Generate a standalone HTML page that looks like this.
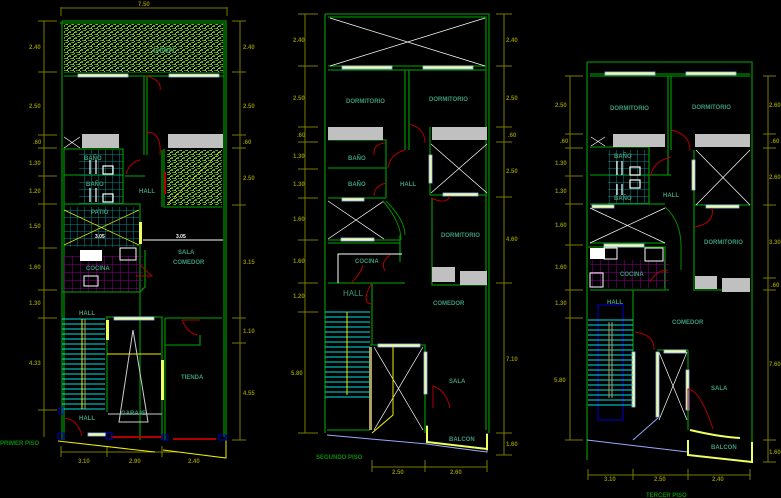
<!DOCTYPE html>
<html><head><meta charset="utf-8"><style>
html,body{margin:0;padding:0;background:#000;width:781px;height:498px;overflow:hidden}
svg{display:block}
text{font-family:"Liberation Sans",sans-serif;font-weight:bold}
.l{fill:#3d9a7c;font-size:6px}
.d{fill:#8a8a00;font-size:6px}
.w{stroke:#008a00;stroke-width:1.3;fill:none}
.dim{stroke:#7a7a00;stroke-width:1;fill:none}
.dr{stroke:#b00000;stroke-width:1;fill:none}
.x{stroke:#fff;stroke-width:0.7}
.win{fill:#eeffa0;stroke:#9ab0ff;stroke-width:0.8}
.cl{fill:#c0c0c0}
.st{stroke:#00e0e0;stroke-width:1}
</style></head><body>
<svg width="781" height="498" viewBox="0 0 781 498" xmlns="http://www.w3.org/2000/svg">
<defs>
<pattern id="gd" width="6" height="6" patternUnits="userSpaceOnUse">
<rect width="6" height="6" fill="#000"/><rect x="0" y="0" width="2" height="1" fill="#6fbf1f"/><rect x="3" y="1" width="2" height="2" fill="#5aa815"/><rect x="1" y="3" width="1" height="2" fill="#7fcf2f"/><rect x="4" y="4" width="2" height="1" fill="#4a9a10"/><rect x="2" y="5" width="1" height="1" fill="#8fd83a"/><rect x="5" y="0" width="1" height="1" fill="#3a8a00"/><rect x="0" y="4" width="1" height="1" fill="#6fbf1f"/><rect x="2" y="2" width="1" height="1" fill="#aadd44"/>
</pattern>
<pattern id="tl" width="7" height="7" patternUnits="userSpaceOnUse"><path d="M0 0H7M0 0V7" stroke="#008b8b" stroke-width="1"/></pattern>
<pattern id="mg" width="8" height="8" patternUnits="userSpaceOnUse"><path d="M0 0H8M0 0V8" stroke="#8b008b" stroke-width="1"/></pattern>
</defs>

<!-- ============ PLAN 1 ============ -->
<path class="dim" d="M61 7V16M227 7V16M61 8H227"/>
<text class="d" x="138" y="6">7.50</text>
<path class="dim" d="M44 21V437M38 21H57M38 72H57M38 135H57M38 148H57M38 176H57M38 204H57M38 248H57M38 290H57M38 318H57M38 410H57"/>
<path class="dim" d="M240 21V440M232 21H246M232 72H246M232 135H246M232 148H246M232 205H246M232 318H246M232 343H246M232 440H246"/>
<g class="d"><text x="29" y="49">2.40</text><text x="29" y="108">2.50</text><text x="33" y="144">.60</text><text x="29" y="165">1.30</text><text x="29" y="193">1.20</text><text x="29" y="228">1.50</text><text x="29" y="269">1.60</text><text x="29" y="305">1.30</text><text x="29" y="365">4.33</text>
<text x="243" y="49">2.40</text><text x="243" y="108">2.50</text><text x="243" y="144">.60</text><text x="243" y="180">2.50</text><text x="243" y="264">3.15</text><text x="243" y="333">1.10</text><text x="243" y="395">4.55</text>
<text x="78" y="463">3.10</text><text x="129" y="463">2.90</text><text x="188" y="463">2.40</text></g>
<path class="dim" d="M61 452H223M61 446V457M107 446V457M162 446V457M223 446V457"/>
<text x="0" y="445" style="fill:#0a8a0a;font-size:6px">PRIMER PISO</text>
<path class="w" d="M62 21H226V440M60 23H224V437M62 21V440M64 72H224M64 76H224M144 76V155M147 76V155M64 148V440"/>
<rect x="64" y="24" width="159" height="48" fill="url(#gd)"/>
<text class="l" x="152" y="52">JARDIN</text>
<rect class="win" x="78" y="74" width="50" height="3"/><rect class="win" x="169" y="74" width="50" height="3"/>
<rect class="cl" x="82" y="134" width="37" height="14"/><rect class="cl" x="168" y="134" width="55" height="14"/>
<path class="x" d="M64 137L80 148M80 137L64 148"/>
<path class="dr" d="M146 76Q162 80 160 90M146 132Q162 132 160 155M126 174Q130 162 140 160"/>
<path class="w" d="M64 149H123V204M64 175H123M64 204H140V440M125 176H145M164 149V207H222M162 150V207"/>
<rect x="79" y="150" width="44" height="54" fill="url(#tl)"/>
<rect x="167" y="150" width="55" height="55" fill="url(#gd)"/>
<path d="M167 205L222 150" stroke="#ff0" stroke-width="0.5"/>
<rect x="164" y="172" width="2" height="22" fill="#b00000"/>
<g stroke="#fff" fill="none" stroke-width="1.2"><rect x="103" y="166" width="10" height="8"/><rect x="103" y="194" width="10" height="8"/><path d="M90 160V174M96 160V174M90 188V202M96 188V202"/></g>
<text class="l" x="84" y="160">BAÑO</text><text class="l" x="86" y="186">BAÑO</text><text class="l" x="139" y="193">HALL</text>
<rect x="64" y="207" width="75" height="40" fill="url(#tl)"/>
<path d="M64 210L139 245M64 245L139 210" stroke="#ee0" stroke-width="0.7"/>
<rect x="139" y="222" width="3" height="22" fill="#eeff60"/>
<text class="l" x="91" y="214">PATIO</text>
<path d="M143 240H223" stroke="#fff" stroke-width="1"/>
<text x="95" y="238" style="fill:#fff;font-size:5px">3.05</text><text x="176" y="238" style="fill:#fff;font-size:5px">3.05</text>
<rect x="62" y="256" width="81" height="36" fill="url(#mg)"/>
<rect x="80" y="250" width="22" height="11" fill="#fff"/><rect x="120" y="248" width="16" height="12" fill="none" stroke="#fff"/>
<rect x="84" y="276" width="14" height="10" fill="none" stroke="#fff"/>
<path class="w" d="M62 292H140L145 287V250"/>
<path class="dr" d="M140 265L152 276H136"/>
<text class="l" x="86" y="270">COCINA</text>
<text class="l" x="178" y="254">SALA</text><text class="l" x="173" y="264">COMEDOR</text>
<text class="l" x="79" y="315">HALL</text>
<g class="st"><path d="M62 319H105M62 324H105M62 329H105M62 334H105M62 339H105M62 344H105M62 349H105M62 354H105M62 359H105M62 364H105M62 369H105M62 374H105M62 379H105M62 384H105M62 389H105M62 394H105M62 399H105M62 404H105M62 409H105"/></g>
<path d="M82 319V409" stroke="#ee0"/><path d="M85 319V409" stroke="#b0a060"/>
<path class="w" d="M106 317H162V440M107 317V412M165 318H222M165 318V440M165 345H200V335"/>
<rect class="win" x="114" y="317" width="40" height="3"/>
<rect x="106" y="320" width="3" height="20" fill="#eeff60"/>
<rect x="161" y="360" width="3" height="40" fill="#eeff60"/>
<path d="M107 354H161" stroke="#ee0"/>
<path d="M133 330L119 422H148Z" stroke="#ccc" fill="none"/>
<path d="M108 414H162" stroke="#ccc"/>
<path class="dr" d="M182 320H200M182 320Q188 334 198 335M65 418Q78 420 82 436"/>
<text class="l" x="181" y="379">TIENDA</text><text class="l" x="121" y="415">GARAJE</text><text class="l" x="79" y="420">HALL</text>
<rect x="88" y="433" width="18" height="3" class="win"/>
<path d="M111 437H162M173 439H216" stroke="#b00000" stroke-width="2"/>
<path d="M58 441L155 452M163 450L226 458V440" stroke="#ee0" stroke-width="1"/>
<g fill="none" stroke="#0000d0"><rect x="58" y="433" width="6" height="6"/><rect x="106" y="433" width="6" height="6"/><rect x="162" y="435" width="6" height="5"/><rect x="219" y="435" width="7" height="5"/><rect x="59" y="408" width="4" height="6"/></g>

<!-- ============ PLAN 2 ============ -->
<path class="w" d="M325 14H489V433M328 17H486V430M325 14V433M328 66H486M328 70H486M405 70V150M409 70V150M328 140H386V198M328 168H386M328 198H386M386 150V168M430 127V195M430 195H487M432 198V285H487M328 240H400M328 243H400M400 235V262M328 283H405M372 283V345M370 345H425V433M327 430H370"/>
<path class="x" d="M330 18L485 66M485 18L330 66M431 144L487 193M487 144L431 193M328 201L384 239M384 201L328 239M374 347L423 430M423 347L374 430"/>
<rect class="win" x="342" y="66" width="50" height="3"/><rect class="win" x="423" y="66" width="50" height="3"/>
<rect class="cl" x="328" y="127" width="55" height="13"/><rect class="cl" x="432" y="127" width="55" height="13"/>
<rect class="cl" x="432" y="267" width="23" height="15"/><rect class="cl" x="460" y="271" width="27" height="14"/>
<rect class="win" x="342" y="198" width="22" height="3"/><rect class="win" x="341" y="238" width="33" height="3"/><rect class="win" x="443" y="193" width="35" height="3"/>
<rect class="win" x="429" y="155" width="3" height="28"/><rect class="win" x="424" y="352" width="3" height="42"/><rect class="win" x="378" y="344" width="42" height="3"/>
<rect x="369" y="347" width="3" height="83" fill="#b0a060"/>
<path d="M386 201Q405 220 405 235" stroke="#008a00" fill="none"/><path d="M383 201Q401 222 401 240" stroke="#008a00" fill="none"/>
<path class="dr" d="M409 124Q425 128 425 143M388 168Q390 154 405 150M374 155Q373 144 385 143M374 196Q374 186 386 183M431 198Q447 205 450 196M385 271Q380 262 390 255M351 283Q360 275 363 265M372 283Q360 303 372 304M433 408V386Q446 390 450 408"/>
<path d="M338 283V254H402" stroke="#fff" fill="none"/>
<g class="st"><path d="M325 312H370M325 317H370M325 322H370M325 327H370M325 332H370M325 337H370M325 342H370M325 347H370M325 352H370M325 357H370M325 362H370M325 367H370M325 372H370M325 377H370M325 382H370M325 387H370M325 392H370M325 397H370"/></g>
<path d="M347 312V395M393 347V415L372 433" stroke="#ee0" fill="none"/>
<path d="M327 435L427 444L427 425M427 444Q440 446 487 452V433" stroke="#99aaff" fill="none"/>
<path d="M427 426V442L487 449V434" stroke="#eeff60" stroke-width="2" fill="none"/>
<g class="l"><text x="346" y="103">DORMITORIO</text><text x="429" y="101">DORMITORIO</text><text x="348" y="160">BAÑO</text><text x="348" y="186">BAÑO</text><text x="400" y="186">HALL</text><text x="441" y="237">DORMITORIO</text><text x="355" y="263">COCINA</text><text x="433" y="305">COMEDOR</text><text x="449" y="383">SALA</text><text x="449" y="441">BALCON</text></g>
<text x="343" y="296" style="fill:#3d9a7c;font-size:8px;font-weight:normal">HALL</text>
<text x="316" y="459" style="fill:#0a8a0a;font-size:6px">SEGUNDO PISO</text>
<path class="dim" d="M305 14V433M298 14H318M298 66H318M298 127H318M298 142H318M298 169H318M298 198H318M298 240H318M298 283H318M298 312H318M298 433H318"/>
<path class="dim" d="M504 14V455M496 14H512M496 66H512M496 127H512M496 142H512M496 197H512M496 283H512M496 433H512M496 455H512"/>
<path class="dim" d="M372 467H487M372 460V472M425 460V472M487 460V472"/>
<g class="d"><text x="293" y="42">2.40</text><text x="293" y="100">2.50</text><text x="297" y="137">.60</text><text x="293" y="158">1.30</text><text x="293" y="186">1.30</text><text x="293" y="221">1.60</text><text x="293" y="263">1.60</text><text x="293" y="298">1.20</text><text x="291" y="375">5.80</text>
<text x="506" y="42">2.40</text><text x="506" y="100">2.50</text><text x="508" y="137">.60</text><text x="506" y="173">2.50</text><text x="506" y="241">4.60</text><text x="506" y="361">7.10</text><text x="506" y="446">1.60</text>
<text x="392" y="474">2.50</text><text x="450" y="474">2.60</text></g>

<!-- ============ PLAN 3 ============ -->
<path class="w" d="M587 62H752V458M590 74H750M590 76H750M587 62V460M668 76V175M671 76V150M590 147H649V204M590 175H649M590 204H665M649 175H671M694 150V205H750M694 205V290H750M590 243H665M588 247H665V290M590 290H669M633 290V375M688 350V430M657 350H688"/>
<path class="x" d="M696 150L750 205M750 150L696 205M590 208L665 243M665 208L590 243M659 352L687 420M687 352L659 420M591 137L605 146M605 137L591 146"/>
<rect class="win" x="605" y="72" width="50" height="3"/><rect class="win" x="686" y="72" width="50" height="3"/>
<rect class="cl" x="613" y="134" width="52" height="13"/><rect class="cl" x="695" y="134" width="55" height="13"/>
<rect class="cl" x="695" y="276" width="22" height="13"/><rect class="cl" x="722" y="278" width="28" height="14"/>
<rect x="608" y="150" width="41" height="54" fill="url(#tl)"/>
<g stroke="#fff" fill="none" stroke-width="1.2"><rect x="630" y="167" width="10" height="8"/><rect x="630" y="180" width="10" height="8"/><path d="M617 161V175M622 161V175M617 184V195M622 184V195"/></g>
<rect class="win" x="592" y="205" width="22" height="3"/><rect class="win" x="604" y="244" width="40" height="3"/><rect class="win" x="706" y="205" width="33" height="3"/>
<rect class="win" x="692" y="160" width="3" height="30"/><rect class="win" x="632" y="352" width="3" height="55"/><rect class="win" x="656" y="352" width="3" height="65"/><rect class="win" x="686" y="370" width="3" height="40"/><rect class="win" x="664" y="350" width="22" height="3"/>
<rect x="590" y="260" width="79" height="28" fill="url(#mg)"/>
<rect x="590" y="248" width="15" height="11" fill="#fff"/><rect x="604" y="248" width="13" height="11" fill="none" stroke="#fff"/><rect x="645" y="248" width="18" height="13" fill="none" stroke="#fff"/><rect x="590" y="273" width="13" height="14" fill="none" stroke="#fff"/>
<path d="M665 207Q682 222 681 250V270" stroke="#008a00" fill="none"/>
<path class="dr" d="M672 131V130Q690 135 690 150M651 176Q652 162 671 157M695 227Q715 223 712 208M650 282Q656 270 668 270M635 332Q655 335 654 350M688 410V389Q700 390 713 429"/>
<path d="M598 305H623V420H598Z" stroke="#0000d0" fill="none"/>
<g class="st"><path d="M588 320H633M588 325H633M588 330H633M588 335H633M588 340H633M588 345H633M588 350H633M588 355H633M588 360H633M588 365H633M588 370H633M588 375H633M588 380H633M588 385H633M588 390H633M588 395H633M588 400H633M588 405H633"/></g>
<path d="M609 322V398M612 322V398" stroke="#b0a060"/>
<path d="M587 440L688 452M633 440L658 418" stroke="#99aaff" fill="none"/>
<path d="M688 440V455L752 462V442M690 430Q720 437 740 438" stroke="#eeff60" stroke-width="2" fill="none"/>
<g class="l"><text x="610" y="110">DORMITORIO</text><text x="692" y="109">DORMITORIO</text><text x="614" y="158">BAÑO</text><text x="614" y="200">BAÑO</text><text x="663" y="197">HALL</text><text x="704" y="244">DORMITORIO</text><text x="620" y="276">COCINA</text><text x="607" y="304">HALL</text><text x="672" y="324">COMEDOR</text><text x="711" y="390">SALA</text><text x="711" y="449">BALCON</text></g>
<text x="646" y="497" style="fill:#0a8a0a;font-size:6px">TERCER PISO</text>
<path class="dim" d="M570 76V440M565 76H583M565 134H583M565 148H583M565 176H583M565 204H583M565 245H583M565 290H583M565 318H583M565 440H583"/>
<path class="dim" d="M768 76V462M763 76H776M763 134H776M763 148H776M763 205H776M763 278H776M763 290H776M763 440H776M763 462H776"/>
<path class="dim" d="M588 475H750M588 469V480M633 469V480M688 469V480M750 469V480"/>
<g class="d"><text x="555" y="107">2.50</text><text x="560" y="143">.60</text><text x="555" y="165">1.30</text><text x="555" y="193">1.30</text><text x="555" y="227">1.60</text><text x="555" y="269">1.60</text><text x="555" y="305">1.30</text><text x="554" y="382">5.80</text>
<text x="769" y="107">2.60</text><text x="771" y="143">.60</text><text x="769" y="179">2.60</text><text x="769" y="244">3.30</text><text x="771" y="287">.60</text><text x="769" y="366">7.60</text><text x="769" y="454">1.60</text>
<text x="604" y="481">3.10</text><text x="654" y="481">2.50</text><text x="712" y="481">2.40</text></g>
</svg>
</body></html>
